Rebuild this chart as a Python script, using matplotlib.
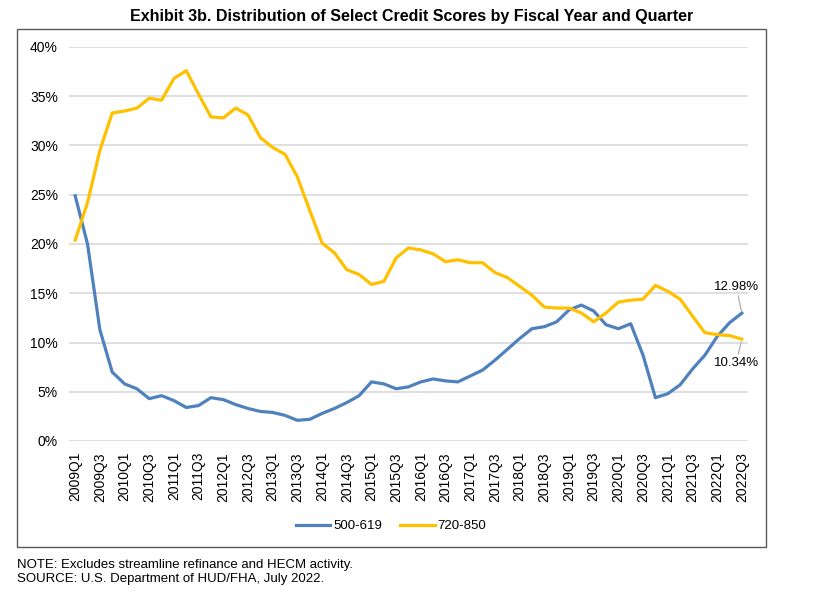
# coding: utf-8

import numpy as np
import matplotlib
matplotlib.use('Agg')
import matplotlib.pyplot as plt
from matplotlib.patches import Rectangle
from matplotlib.ticker import FuncFormatter

years = list(range(2009, 2023))
quarters = ['Q1', 'Q2', 'Q3', 'Q4']
periods = [str(y) + q for y in years for q in quarters][:55]

# 500-619 share (%)
low_score = [24.9, 20.0, 11.3, 7.0, 5.8, 5.3, 4.3, 4.6, 4.1, 3.4, 3.6,
             4.4, 4.2, 3.7, 3.3, 3.0, 2.9, 2.6, 2.1, 2.2, 2.8, 3.3,
             3.9, 4.6, 6.0, 5.8, 5.3, 5.5, 6.0, 6.3, 6.1, 6.0, 6.6,
             7.2, 8.2, 9.3, 10.4, 11.4, 11.6, 12.1, 13.3, 13.8, 13.2, 11.8,
             11.4, 11.9, 8.7, 4.4, 4.8, 5.7, 7.3, 8.7, 10.6, 12.0, 12.98]

# 720-850 share (%)
high_score = [20.4, 24.2, 29.5, 33.3, 33.5, 33.8, 34.8, 34.6, 36.8, 37.6, 35.2,
              32.9, 32.8, 33.8, 33.1, 30.8, 29.8, 29.1, 26.8, 23.4, 20.1, 19.1,
              17.4, 16.9, 15.9, 16.2, 18.6, 19.6, 19.4, 19.0, 18.2, 18.4, 18.1,
              18.1, 17.1, 16.6, 15.7, 14.8, 13.6, 13.5, 13.5, 13.0, 12.1, 13.0,
              14.1, 14.3, 14.4, 15.8, 15.2, 14.4, 12.7, 11.0, 10.8, 10.7, 10.34]

series_names = ['500-619', '720-850']
title = 'Exhibit 3b. Distribution of Select Credit Scores by Fiscal Year and Quarter'
notes = ['NOTE: Excludes streamline refinance and HECM activity.',
         'SOURCE: U.S. Department of HUD/FHA, July 2022.']

BLUE = '#4F81BD'
GOLD = '#FFC000'
NARROW = ['Liberation Sans Narrow', 'Liberation Sans', 'DejaVu Sans']
REGULAR = ['Liberation Sans', 'DejaVu Sans']


def main():
    plt.rcParams['font.family'] = REGULAR
    W, H = 824, 608
    fig = plt.figure(figsize=(W / 100, H / 100), dpi=100)
    fig.patch.set_facecolor('white')

    # outer chart frame
    fig.patches.append(Rectangle((17 / W, 1 - 547 / H), (766 - 17) / W, (547 - 29) / H,
                                 transform=fig.transFigure, fill=False,
                                 edgecolor='#595959', linewidth=1.0))

    ax = fig.add_axes([69 / W, 1 - 441 / H, (748 - 69) / W, (441 - 47) / H])
    x = np.arange(len(periods))
    ax.plot(x, low_score, color=BLUE, lw=2.3, label=series_names[0],
            solid_joinstyle='round', zorder=3)
    ax.plot(x, high_score, color=GOLD, lw=2.3, label=series_names[1],
            solid_joinstyle='round', zorder=3)

    ax.set_xlim(-0.5, len(periods) - 0.5)
    ax.set_ylim(0, 40)
    ax.set_yticks(np.arange(0, 41, 5))
    ax.yaxis.set_major_formatter(FuncFormatter(lambda v, p: '%d%%' % v))
    ax.set_xticks(x[::2])
    ax.set_xticklabels(periods[::2], rotation=90)
    ax.tick_params(axis='both', length=0, labelsize=10, colors='black')
    ax.tick_params(axis='y', pad=8)
    ax.tick_params(axis='x', pad=8)
    ax.grid(axis='y', color='#D9D9D9', lw=1.2)
    ax.set_axisbelow(True)
    for s in ax.spines.values():
        s.set_visible(False)

    # end labels
    last = len(periods) - 1
    ann = dict(textcoords='offset points', ha='center', va='center', fontsize=9.5,
               arrowprops=dict(arrowstyle='-', color='#A6A6A6', lw=0.8,
                               shrinkA=0, shrinkB=2))
    ax.annotate('%.2f%%' % low_score[-1], xy=(last, low_score[-1]),
                xytext=(-4, 19), **ann)
    ax.annotate('%.2f%%' % high_score[-1], xy=(last, high_score[-1]),
                xytext=(-4, -17), **ann)

    fig.legend(loc='center', bbox_to_anchor=(391 / W, 1 - 526 / H), ncol=2,
               frameon=False, fontsize=9.5, handlelength=2.6, handletextpad=0.2,
               columnspacing=1.4)

    fig.text(412 / W, 1 - 16 / H, title, ha='center', va='center',
             fontsize=11.5, fontweight='bold', family=NARROW)
    for k, line in enumerate(notes):
        fig.text(17 / W, 1 - (565 + 14 * k) / H, line, ha='left', va='center',
                 fontsize=9.5, family=NARROW)

    fig.savefig('out.png', dpi=100, facecolor='white')
    return


if __name__ == "__main__":
    main()
